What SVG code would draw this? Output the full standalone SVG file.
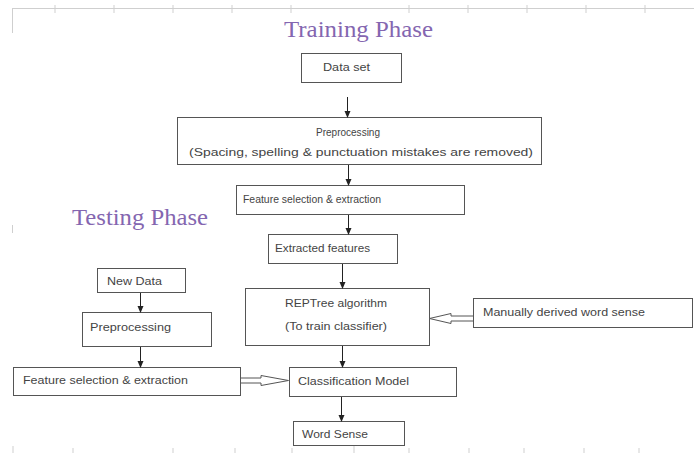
<svg xmlns="http://www.w3.org/2000/svg" width="694" height="453" viewBox="0 0 694 453">
<style>
.box{fill:#fff;stroke:#555;stroke-width:1}
.t{font-family:"Liberation Sans",Arial,sans-serif;font-size:10.5px;fill:#444}
.title{font-family:"Liberation Serif","Times New Roman",serif;font-size:24px;fill:#8466b0}
.ln{stroke:#222;stroke-width:1;fill:none}
.hollow{fill:#fff;stroke:#555;stroke-width:1}
.rule{stroke:#cfcfcf;stroke-width:1;fill:none}
</style>
<defs>
<marker id="ah" viewBox="0 0 8 8" refX="7" refY="4" markerWidth="7" markerHeight="7" markerUnits="userSpaceOnUse" orient="auto">
<path d="M0,0.5 L8,4 L0,7.5 Z" fill="#222"/>
</marker>
</defs>
<rect width="694" height="453" fill="#fff"/>
<g id="page-marks">
<path class="rule" d="M12,8.5 H694 M12.5,8 V33 M55,5 V13 M114,5 V13 M173,5 V13 M232,5 V13 M291,5 V13 M409,5 V13 M468,5 V13 M527,5 V13 M586,5 V13 M645,5 V13 M12.5,225 V233"/>
<path class="rule" d="M13,446 V453 M73,448 V453 M173,448 V453 M235,448 V453 M292,448 V453 M354,446 V453 M409,448 V453 M469,448 V453 M524,448 V453 M584,448 V453 M639,448 V453"/>
</g>
<g id="title-training"><text class="title" x="284" y="37" textLength="149" lengthAdjust="spacingAndGlyphs">Training Phase</text></g>
<g id="title-testing"><text class="title" x="72" y="225" textLength="136" lengthAdjust="spacingAndGlyphs">Testing Phase</text></g>

<g id="dataset"><rect class="box" x="301.5" y="53.5" width="100" height="29"/><text class="t" x="323" y="71" textLength="47" lengthAdjust="spacingAndGlyphs">Data set</text></g>
<g id="preproc-train"><rect class="box" x="177.5" y="117.5" width="364" height="47"/>
<text class="t" x="316" y="136" textLength="64" lengthAdjust="spacingAndGlyphs" style="font-size:11.5px">Preprocessing</text>
<text class="t" x="189" y="156" textLength="344" lengthAdjust="spacingAndGlyphs" style="font-size:11px">(Spacing, spelling &amp; punctuation mistakes are removed)</text></g>
<g id="feature-train"><rect class="box" x="236.5" y="185.5" width="228" height="29"/><text class="t" x="243" y="203" textLength="138" lengthAdjust="spacingAndGlyphs">Feature selection &amp; extraction</text></g>
<g id="extracted"><rect class="box" x="268.5" y="234.5" width="129" height="29"/><text class="t" x="275" y="252" textLength="95" lengthAdjust="spacingAndGlyphs">Extracted features</text></g>
<g id="reptree"><rect class="box" x="245.5" y="288.5" width="184" height="57"/>
<text class="t" x="285" y="307" textLength="102" lengthAdjust="spacingAndGlyphs">REPTree algorithm</text>
<text class="t" x="285" y="330" textLength="102" lengthAdjust="spacingAndGlyphs">(To train classifier)</text></g>
<g id="manual"><rect class="box" x="473.5" y="298.5" width="219" height="29"/><text class="t" x="483" y="316" textLength="162" lengthAdjust="spacingAndGlyphs">Manually derived word sense</text></g>
<g id="classification"><rect class="box" x="289.5" y="367.5" width="167" height="29"/><text class="t" x="298" y="385" textLength="111" lengthAdjust="spacingAndGlyphs">Classification Model</text></g>
<g id="wordsense"><rect class="box" x="293.5" y="421.5" width="111" height="24"/><text class="t" x="302" y="438" textLength="66" lengthAdjust="spacingAndGlyphs">Word Sense</text></g>
<g id="newdata"><rect class="box" x="97.5" y="268.5" width="88" height="24"/><text class="t" x="107" y="284.5" textLength="55" lengthAdjust="spacingAndGlyphs">New Data</text></g>
<g id="preproc-test"><rect class="box" x="82.5" y="312.5" width="129" height="34"/><text class="t" x="90" y="331" textLength="81" lengthAdjust="spacingAndGlyphs">Preprocessing</text></g>
<g id="feature-test"><rect class="box" x="13.5" y="367.5" width="227" height="28"/><text class="t" x="23" y="384" textLength="165" lengthAdjust="spacingAndGlyphs">Feature selection &amp; extraction</text></g>

<g id="connectors">
<line class="ln" x1="347.5" y1="97" x2="347.5" y2="117" marker-end="url(#ah)"/>
<line class="ln" x1="348.5" y1="165" x2="348.5" y2="185" marker-end="url(#ah)"/>
<line class="ln" x1="348.5" y1="215" x2="348.5" y2="234" marker-end="url(#ah)"/>
<line class="ln" x1="342.5" y1="264" x2="342.5" y2="288" marker-end="url(#ah)"/>
<line class="ln" x1="342.5" y1="346" x2="342.5" y2="367" marker-end="url(#ah)"/>
<line class="ln" x1="341.5" y1="397" x2="341.5" y2="421" marker-end="url(#ah)"/>
<line class="ln" x1="140.5" y1="293" x2="140.5" y2="312" marker-end="url(#ah)"/>
<line class="ln" x1="140.5" y1="347" x2="140.5" y2="367" marker-end="url(#ah)"/>
<path class="hollow" d="M241,378 L261,378 L261,375.5 L288.5,380.5 L261,385.5 L261,383 L241,383"/>
<path class="hollow" d="M473,316 L451,316 L451,313.5 L429.5,318.5 L451,323.5 L451,321 L473,321"/>
</g>
</svg>
